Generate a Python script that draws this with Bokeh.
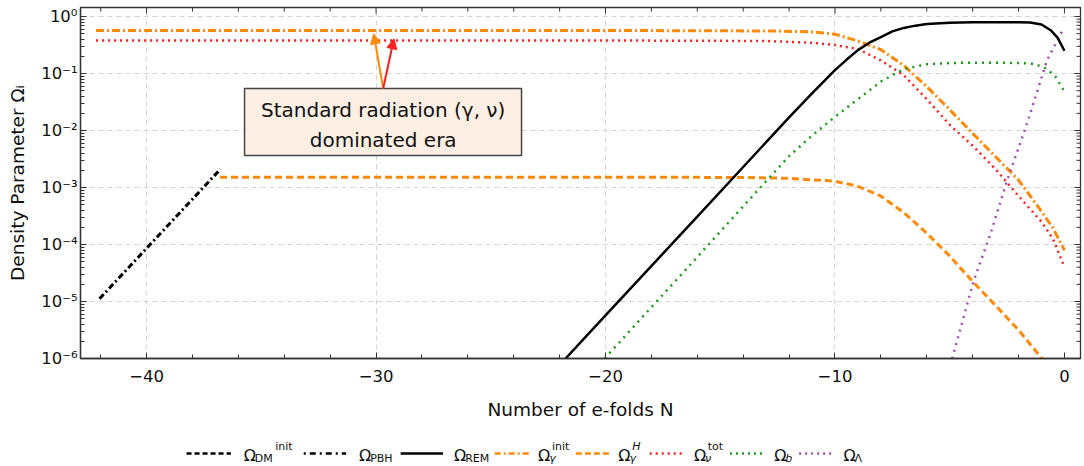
import math
from bokeh.plotting import figure
from bokeh.layouts import column
from bokeh.models import (Range1d, FixedTicker, SingleIntervalTicker,
                          CustomJSTickFormatter, Arrow, NormalHead)
from bokeh.core.properties import value
from bokeh.embed import file_html
from bokeh.resources import INLINE

FONT = "DejaVu Sans"

# ---------------- data ----------------
N_pbh = [-42.05, -36.78]
Om_pbh = [1.12e-5, 2.1e-3]

N_rem = [-21.74, -20, -16, -14, -12, -11, -10, -9.5, -9, -8.5, -8, -7.5, -7, -6.5, -6, -5, -4,
         -3, -2, -1.5, -1, -0.6, -0.3, 0]
Om_rem = [1e-6, 5.69e-6, 3.09e-4, 2.29e-3, 0.0170, 0.0447, 0.115, 0.174, 0.257, 0.347, 0.437,
          0.550, 0.631, 0.692, 0.741, 0.776, 0.794, 0.794, 0.794, 0.785, 0.724, 0.575, 0.427, 0.251]

N_ginit = [-42.2, -30, -20, -15, -12.5, -11, -10, -9, -8, -7, -6, -5, -4, -3, -2, -1, -0.5, 0]
Om_ginit = [0.569, 0.569, 0.569, 0.562, 0.556, 0.537, 0.490, 0.372, 0.263, 0.138, 0.0589,
            0.0232, 8.9e-3, 3.47e-3, 1.35e-3, 3.8e-4, 1.95e-4, 7.9e-5]

N_gH = [-36.8, -20, -14, -12, -10, -9, -8, -7, -6, -5, -4, -3, -2, -1, -0.5]
Om_gH = [1.52e-3, 1.52e-3, 1.50e-3, 1.45e-3, 1.29e-3, 1.05e-3, 7.08e-4, 3.63e-4, 1.58e-4,
         6.3e-5, 2.24e-5, 8.5e-6, 3.16e-6, 1.02e-6, 5.6e-7]

N_ntot = [-42.2, -20, -13, -11, -10, -9, -8, -7, -6, -5, -4, -3, -2, -1, -0.5, 0]
Om_ntot = [0.380, 0.380, 0.372, 0.347, 0.316, 0.269, 0.170, 0.0933, 0.0355, 0.0126, 5.4e-3,
           2.1e-3, 7.1e-4, 2.5e-4, 1.26e-4, 4.0e-5]

N_b = [-20.04, -18, -16, -14, -12, -11, -10, -9, -8, -7, -6, -5, -4, -3, -2, -1.3, -0.8, -0.4, 0]
Om_b = [1e-6, 7.94e-6, 6.03e-5, 4.68e-4, 3.55e-3, 8.13e-3, 0.0174, 0.0355, 0.0724, 0.120, 0.145,
        0.153, 0.155, 0.155, 0.153, 0.148, 0.123, 0.0891, 0.0479]

N_lam = [-4.89, -3.95, -3.22, -2.5, -1.63, -0.76, -0.05]
Om_lam = [1e-6, 2.34e-5, 1.55e-4, 1.33e-3, 0.0132, 0.170, 0.608]

x_ticks_major = [-40, -30, -20, -10, 0]
x_ticks_minor = [v for v in range(-42, 1, 2) if v % 10 != 0]
y_ticks_major = [1e-6, 1e-5, 1e-4, 1e-3, 1e-2, 1e-1, 1e0]
y_ticks_minor = [m * d for d in y_ticks_major[:-1] for m in range(2, 10)]

x_label = "Number of e-folds N"
y_label = "Density Parameter \u03a9\u1d62"
note_lines = ["Standard radiation (\u03b3, \u03bd)", "dominated era"]

X_MIN, X_MAX = -42.88, 0.70
Y_MIN, Y_MAX = 1e-6, 1.44

# annotation geometry (data coords)
box_left, box_right, box_top, box_bottom = -35.73, -23.66, 0.0547, 0.00366
note_x = -29.69
note_y = [0.0225, 0.00689]
arrow_start = (-29.69, 0.0547)
arrow_orange_end = (-30.1, 0.497)
arrow_red_end = (-29.22, 0.407)

ORANGE = "#FF8A0A"
RED = "#FF1F1F"
GREEN = "#1A9A1A"
PURPLE = "#A24DB0"
BLACK = "#000000"
AXC = "#333333"

# ---------------- main figure ----------------
p = figure(width=1084, height=426, y_axis_type="log",
           x_range=Range1d(X_MIN, X_MAX), y_range=Range1d(Y_MIN, Y_MAX),
           output_backend="svg", toolbar_location=None,
           min_border_left=80, min_border_right=4, min_border_top=7, min_border_bottom=68)
p.outline_line_color = AXC
p.outline_line_width = 1.3
p.outline_line_alpha = 1.0
p.background_fill_color = "white"

p.xaxis.ticker = SingleIntervalTicker(interval=10, num_minor_ticks=5)
p.xaxis.formatter = CustomJSTickFormatter(
    code="return tick < 0 ? '\u2212' + Math.abs(tick) : String(tick);")
p.yaxis.ticker = FixedTicker(ticks=y_ticks_major, minor_ticks=y_ticks_minor)
p.yaxis.formatter = CustomJSTickFormatter(code="""
const sup = {'-':'\u207b','0':'\u2070','1':'\u00b9','2':'\u00b2','3':'\u00b3','4':'\u2074',
             '5':'\u2075','6':'\u2076','7':'\u2077','8':'\u2078','9':'\u2079'};
const e = Math.round(Math.log10(tick));
return '10' + String(e).split('').map(c => sup[c]).join('');
""")
for ax in (p.xaxis[0], p.yaxis[0]):
    ax.axis_line_color = AXC
    ax.axis_line_width = 1.3
    ax.major_tick_line_color = AXC
    ax.minor_tick_line_color = AXC
    ax.major_tick_in = 6
    ax.major_tick_out = 0
    ax.minor_tick_in = 4
    ax.minor_tick_out = 0
    ax.major_label_text_font = FONT
    ax.major_label_text_font_size = "16.5px"
    ax.major_label_text_color = "#111111"
    ax.axis_label_text_font = FONT
    ax.axis_label_text_font_size = "18.5px"
    ax.axis_label_text_font_style = "normal"
    ax.axis_label_text_color = "#111111"
p.xaxis.axis_label = x_label
p.yaxis.axis_label = y_label
p.xaxis.major_label_standoff = 11
p.xaxis.axis_label_standoff = 14
p.yaxis.major_label_standoff = 3
p.yaxis.axis_label_standoff = 10

# mirrored ticks on the top and right frame edges
p.ray(x=x_ticks_major, y=[Y_MAX] * len(x_ticks_major), length=6, angle=-math.pi / 2,
      length_units="screen", line_color=AXC, line_width=1)
p.ray(x=x_ticks_minor, y=[Y_MAX] * len(x_ticks_minor), length=4, angle=-math.pi / 2,
      length_units="screen", line_color=AXC, line_width=1)
p.ray(x=[X_MAX] * len(y_ticks_major), y=y_ticks_major, length=6, angle=math.pi,
      length_units="screen", line_color=AXC, line_width=1)
p.ray(x=[X_MAX] * len(y_ticks_minor), y=y_ticks_minor, length=4, angle=math.pi,
      length_units="screen", line_color=AXC, line_width=1)

p.xgrid.ticker = FixedTicker(ticks=x_ticks_major[:-1])
p.ygrid.ticker = FixedTicker(ticks=y_ticks_major)
for g in (p.xgrid[0], p.ygrid[0]):
    g.grid_line_color = "#d4d4d4"
    g.grid_line_dash = "5 4"
    g.grid_line_width = 1

# curves
p.line(N_pbh, Om_pbh, line_color=BLACK, line_width=3, line_dash="6 3 2 3")
p.line(N_ginit, Om_ginit, line_color=ORANGE, line_width=3, line_dash="8 3 2 3")
p.line(N_gH, Om_gH, line_color=ORANGE, line_width=3, line_dash="7 4")
p.line(N_ntot, Om_ntot, line_color=RED, line_width=2.5, line_dash="2 4")
p.line(N_b, Om_b, line_color=GREEN, line_width=2.5, line_dash="2 5")
p.line(N_lam, Om_lam, line_color=PURPLE, line_width=2.5, line_dash="2 5")
p.line(N_rem, Om_rem, line_color=BLACK, line_width=2.5)

# annotation box
p.quad(left=[box_left], right=[box_right], top=[box_top], bottom=[box_bottom],
       fill_color="#FDEFE3", line_color="#444444", line_width=1.5)
p.text(x=[note_x, note_x], y=note_y, text=note_lines, text_font=value(FONT),
       text_font_size="20px", text_align="center", text_baseline="middle", text_color="#111111")
p.add_layout(Arrow(end=NormalHead(size=10, fill_color=ORANGE, line_color=ORANGE),
                   x_start=arrow_start[0], y_start=arrow_start[1],
                   x_end=arrow_orange_end[0], y_end=arrow_orange_end[1],
                   line_color=ORANGE, line_width=2))
p.add_layout(Arrow(end=NormalHead(size=10, fill_color=RED, line_color=RED),
                   x_start=arrow_start[0], y_start=arrow_start[1],
                   x_end=arrow_red_end[0], y_end=arrow_red_end[1],
                   line_color=RED, line_width=2))

# ---------------- legend strip ----------------
leg = figure(width=1084, height=40, x_range=Range1d(0, 1084), y_range=Range1d(40, 0),
             output_backend="svg", toolbar_location=None,
             x_axis_location=None, y_axis_location=None,
             min_border_left=0, min_border_right=0, min_border_top=0, min_border_bottom=0)
leg.outline_line_color = None
leg.xgrid.visible = False
leg.ygrid.visible = False

leg_items = [
    # (x0, x1, color, dash, x_omega, sub, sub_italic, sup, sup_dx)
    (115, 163, BLACK, "5 3", 177, "DM", False, "init", 34),
    (242, 288, BLACK, "2 4 6 4", 302, "PBH", False, "", 0),
    (347, 393, BLACK, "solid", 405, "REM", False, "", 0),
    (449, 486, ORANGE, "6 3 2 3", 496, "\u03b3", True, "init", 15),
    (537, 573, ORANGE, "6 3", 583, "\u03b3", True, "H", 15),
    (617, 655, RED, "2 4", 665, "\u03bd", True, "tot", 15),
    (704, 742, GREEN, "2 4", 752, "b", True, "", 0),
    (779, 817, PURPLE, "2 4", 827, "\u039b", False, "", 0),
]
ly = 27
for x0, x1, col, dash, xo, sub, it, sup, sdx in leg_items:
    leg.line([x0, x1], [ly, ly], line_color=col, line_width=2.5, line_dash=dash)
    leg.text(x=[xo], y=[29], text=["\u03a9"], text_font=value(FONT), text_font_size="16px",
             text_baseline="middle", text_color="#111111")
    leg.text(x=[xo + 12], y=[32], text=[sub], text_font=value(FONT), text_font_size="11px",
             text_font_style="italic" if it else "normal",
             text_baseline="middle", text_color="#111111")
    if sup:
        leg.text(x=[xo + sdx], y=[20], text=[sup], text_font=value(FONT), text_font_size="11px",
                 text_font_style="italic" if sup == "H" else "normal",
                 text_baseline="middle", text_color="#111111")

layout = column(p, leg, spacing=0)
open("out.html", "w").write(file_html(layout, INLINE))
